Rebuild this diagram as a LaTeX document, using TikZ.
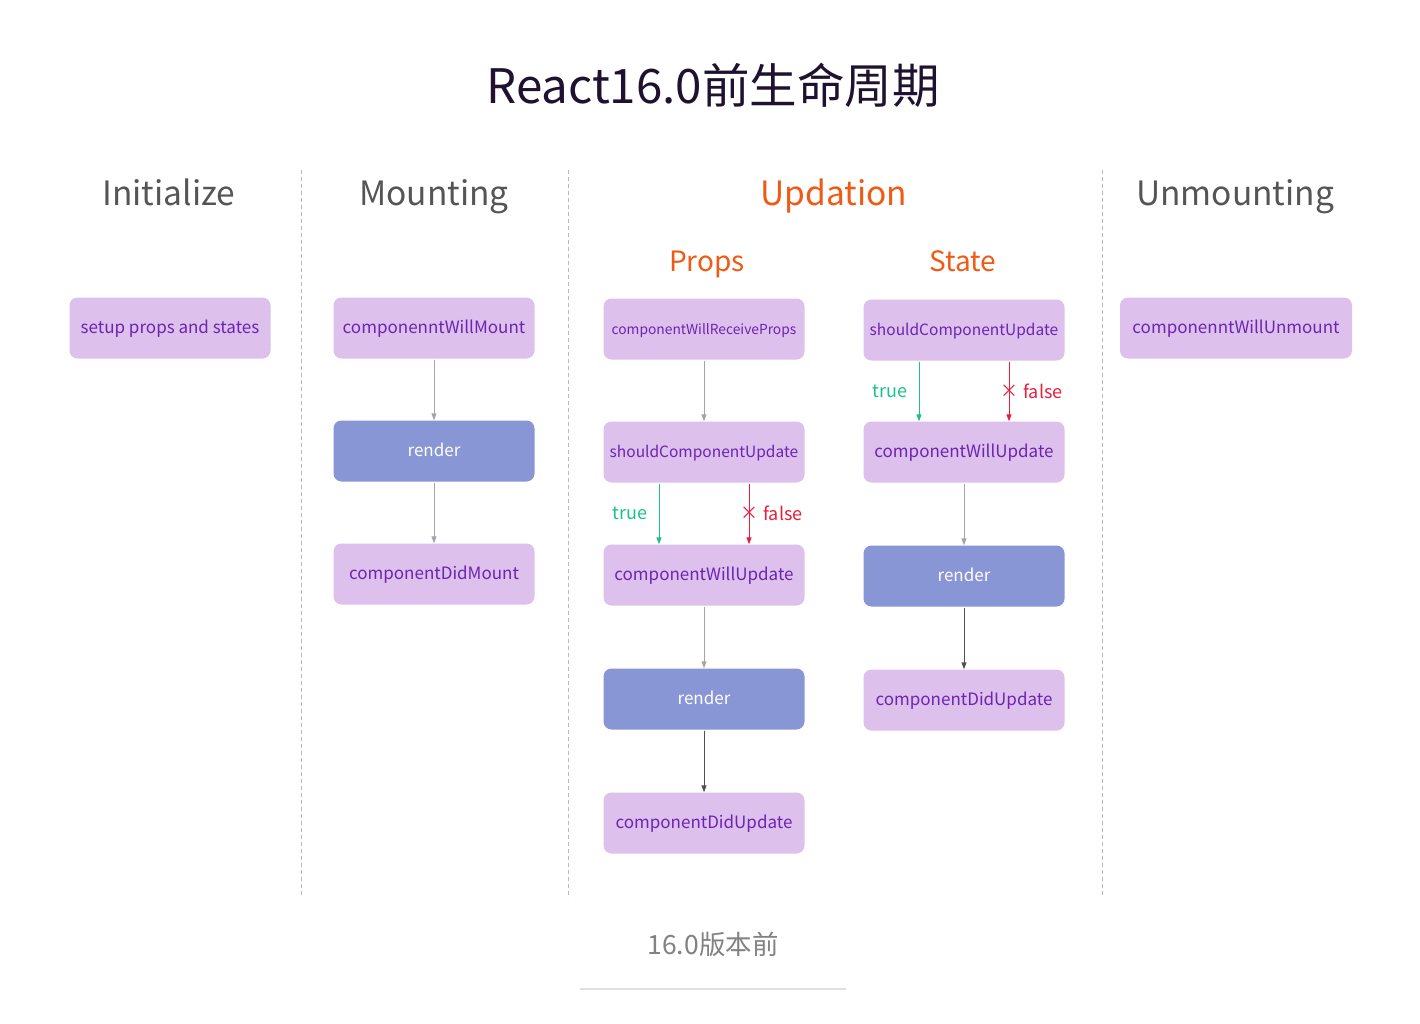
\documentclass[tikz,border=0pt]{standalone}
\usepackage{fontspec}
\setmainfont{Noto Sans CJK SC}
\usepackage{xcolor}
\usepackage{tikz}
\usetikzlibrary{arrows.meta,calc}
\definecolor{boxfill}{RGB}{221,192,236}
\definecolor{boxtext}{RGB}{108,36,178}
\definecolor{renderfill}{RGB}{136,150,214}
\definecolor{headgray}{RGB}{85,85,85}
\definecolor{updorange}{RGB}{240,90,20}
\definecolor{titlecol}{RGB}{30,18,48}
\definecolor{arrgray}{RGB}{165,165,165}
\definecolor{arrdark}{RGB}{80,80,80}
\definecolor{truegreen}{RGB}{28,192,140}
\definecolor{falsered}{RGB}{232,30,60}
\definecolor{sepgray}{RGB}{185,185,185}
\definecolor{capgray}{RGB}{130,130,130}

\begin{document}
\begin{tikzpicture}[x=1pt, y=-1pt,
    box/.style={rectangle, rounded corners=8pt, fill=boxfill, minimum width=201pt, minimum height=61pt, align=center, text=boxtext, font=\fontsize{17}{20}\selectfont, inner sep=2pt, text height=1.0em, text depth=0em},
    rbox/.style={box, fill=renderfill, text=white},
    head/.style={font=\fontsize{33.5}{40}\selectfont, text=headgray, anchor=base},
    subhead/.style={font=\fontsize{28}{32}\selectfont, text=updorange, anchor=base},
    lbl/.style={font=\fontsize{18}{22}\selectfont, inner sep=0pt},
    arr/.style={-{Triangle[length=7pt,width=5pt]}, line width=1pt, draw=arrgray, fill=arrgray, shorten <=1pt},
    darr/.style={arr, draw=arrdark, fill=arrdark},
    tarr/.style={arr, draw=truegreen, fill=truegreen},
    farr/.style={arr, draw=falsered, fill=falsered},
    sep/.style={draw=sepgray, line width=0.8pt, dash pattern=on 4pt off 3pt}
]
\fill[white] (0,0) rectangle (1420,1024);
\useasboundingbox (0,0) rectangle (1420,1024);

\node[font=\fontsize{47.5}{54}\selectfont, text=titlecol] (title) at (713,85) {React16.0前生命周期};

\node[head] (hinit) at (169,206) {Initialize};
\node[head] (hmount) at (434,206) {Mounting};
\node[head, text=updorange] (hupd) at (834,206) {Updation};
\node[head] (hunmount) at (1235,206) {Unmounting};
\node[subhead] (hprops) at (707,271) {Props};
\node[subhead] (hstate) at (963,271) {State};

\draw[sep] (301,170) -- (301,898);
\draw[sep] (568,170) -- (568,898);
\draw[sep] (1102,170) -- (1102,898);

\node[box] (setup) at (170,328) {setup props and states};

\node[box] (mwm) at (434,328) {componenntWillMount};
\node[rbox] (mrd) at (434,451) {render};
\node[box] (mdm) at (434,574) {componentDidMount};

\node[box, font=\fontsize{13.8}{17}\selectfont] (pwrp) at (704,329) {componentWillReceiveProps};
\node[box, font=\fontsize{15.5}{19}\selectfont] (pscu) at (704,452) {shouldComponentUpdate};
\node[box] (pcwu) at (704,575) {componentWillUpdate};
\node[rbox] (prd) at (704,699) {render};
\node[box] (pcdu) at (704,823) {componentDidUpdate};

\node[box, font=\fontsize{15.5}{19}\selectfont] (sscu) at (964,330) {shouldComponentUpdate};
\node[box] (scwu) at (964,452) {componentWillUpdate};
\node[rbox] (srd) at (964,576) {render};
\node[box] (scdu) at (964,700) {componentDidUpdate};

\node[box, minimum width=232pt] (uwu) at (1236,328) {componenntWillUnmount};

\draw[arr] (mwm) -- (mrd);
\draw[arr] (mrd) -- (mdm);

\draw[arr] (pwrp) -- (pscu);
\draw[tarr] ([xshift=-45pt]pscu.south) -- node[lbl, left=11pt, text=truegreen]{true} ([xshift=-45pt]pcwu.north);
\draw[farr] ([xshift=45pt]pscu.south) -- node[lbl, text=falsered]{×} node[lbl, right=14pt, text=falsered]{false} ([xshift=45pt]pcwu.north);
\draw[arr] (pcwu) -- (prd);
\draw[darr] (prd) -- (pcdu);

\draw[tarr] ([xshift=-45pt]sscu.south) -- node[lbl, left=11pt, text=truegreen]{true} ([xshift=-45pt]scwu.north);
\draw[farr] ([xshift=45pt]sscu.south) -- node[lbl, text=falsered]{×} node[lbl, right=14pt, text=falsered]{false} ([xshift=45pt]scwu.north);
\draw[arr] (scwu) -- (srd);
\draw[darr] (srd) -- (scdu);

\node[font=\fontsize{26.5}{30}\selectfont, text=capgray] (cap) at (713,944) {16.0版本前};
\draw[draw=black!12, line width=1.5pt] (580,989) -- (846,989);
\end{tikzpicture}
\end{document}
